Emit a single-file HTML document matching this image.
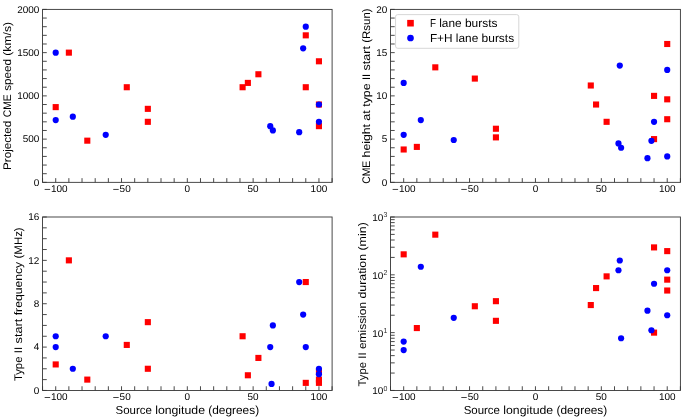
<!DOCTYPE html>
<html><head><meta charset="utf-8"><title>Type II burst properties vs source longitude</title>
<style>
html,body{margin:0;padding:0;background:#ffffff;}
body{width:685px;height:417px;overflow:hidden;}
svg{display:block;will-change:transform;}
svg text{text-rendering:geometricPrecision;font-family:"Liberation Sans",sans-serif;fill:#000000;}
</style></head><body>
<svg width="685" height="417" viewBox="0 0 685 417">
<rect x="0" y="0" width="685" height="417" fill="#ffffff"/>
<rect x="52.66" y="104.07" width="6.1" height="6.1" fill="#ff0000"/>
<rect x="65.82" y="49.59" width="6.1" height="6.1" fill="#ff0000"/>
<rect x="84.25" y="137.62" width="6.1" height="6.1" fill="#ff0000"/>
<rect x="123.73" y="84.18" width="6.1" height="6.1" fill="#ff0000"/>
<rect x="144.79" y="105.80" width="6.1" height="6.1" fill="#ff0000"/>
<rect x="144.79" y="118.77" width="6.1" height="6.1" fill="#ff0000"/>
<rect x="239.55" y="84.18" width="6.1" height="6.1" fill="#ff0000"/>
<rect x="244.82" y="79.85" width="6.1" height="6.1" fill="#ff0000"/>
<rect x="255.35" y="71.21" width="6.1" height="6.1" fill="#ff0000"/>
<rect x="302.73" y="32.29" width="6.1" height="6.1" fill="#ff0000"/>
<rect x="302.73" y="84.18" width="6.1" height="6.1" fill="#ff0000"/>
<rect x="315.89" y="58.24" width="6.1" height="6.1" fill="#ff0000"/>
<rect x="315.89" y="101.47" width="6.1" height="6.1" fill="#ff0000"/>
<rect x="315.89" y="123.09" width="6.1" height="6.1" fill="#ff0000"/>
<circle cx="55.71" cy="52.64" r="3.1" fill="#0000ff"/>
<circle cx="55.71" cy="120.09" r="3.1" fill="#0000ff"/>
<circle cx="72.82" cy="116.63" r="3.1" fill="#0000ff"/>
<circle cx="105.72" cy="134.79" r="3.1" fill="#0000ff"/>
<circle cx="270.24" cy="126.14" r="3.1" fill="#0000ff"/>
<circle cx="272.87" cy="130.47" r="3.1" fill="#0000ff"/>
<circle cx="299.20" cy="132.19" r="3.1" fill="#0000ff"/>
<circle cx="303.15" cy="48.31" r="3.1" fill="#0000ff"/>
<circle cx="305.78" cy="26.69" r="3.1" fill="#0000ff"/>
<circle cx="318.94" cy="104.52" r="3.1" fill="#0000ff"/>
<circle cx="318.94" cy="121.82" r="3.1" fill="#0000ff"/>
<path d="M42.55 182.35V178.15M55.71 182.35V178.15M68.87 182.35V178.15M82.03 182.35V178.15M95.20 182.35V178.15M108.36 182.35V178.15M121.52 182.35V178.15M134.68 182.35V178.15M147.84 182.35V178.15M161.00 182.35V178.15M174.16 182.35V178.15M187.32 182.35V178.15M200.49 182.35V178.15M213.65 182.35V178.15M226.81 182.35V178.15M239.97 182.35V178.15M253.13 182.35V178.15M266.29 182.35V178.15M279.45 182.35V178.15M292.62 182.35V178.15M305.78 182.35V178.15M318.94 182.35V178.15M332.10 182.35V178.15M42.55 182.35H46.75M42.55 173.70H46.75M42.55 165.06H46.75M42.55 156.41H46.75M42.55 147.76H46.75M42.55 139.11H46.75M42.55 130.47H46.75M42.55 121.82H46.75M42.55 113.17H46.75M42.55 104.52H46.75M42.55 95.88H46.75M42.55 87.23H46.75M42.55 78.58H46.75M42.55 69.93H46.75M42.55 61.29H46.75M42.55 52.64H46.75M42.55 43.99H46.75M42.55 35.34H46.75M42.55 26.69H46.75M42.55 18.05H46.75M42.55 9.40H46.75" stroke="#363636" stroke-width="0.9" fill="none"/>
<rect x="42.55" y="9.40" width="289.55" height="172.95" fill="none" stroke="#363636" stroke-width="0.9"/>
<rect x="44.66" y="188.95" width="5.46" height="0.74" fill="#000"/>
<text x="51.04" y="192.05" font-size="9.8" textLength="16.64" lengthAdjust="spacingAndGlyphs">100</text>
<rect x="113.24" y="188.95" width="5.46" height="0.74" fill="#000"/>
<text x="119.62" y="192.05" font-size="9.8" textLength="11.10" lengthAdjust="spacingAndGlyphs">50</text>
<text x="184.55" y="192.05" font-size="9.8" textLength="5.55" lengthAdjust="spacingAndGlyphs">0</text>
<text x="247.58" y="192.05" font-size="9.8" textLength="11.10" lengthAdjust="spacingAndGlyphs">50</text>
<text x="310.62" y="192.05" font-size="9.8" textLength="16.64" lengthAdjust="spacingAndGlyphs">100</text>
<text x="33.80" y="185.65" font-size="9.8" textLength="5.55" lengthAdjust="spacingAndGlyphs">0</text>
<text x="22.71" y="142.41" font-size="9.8" textLength="16.64" lengthAdjust="spacingAndGlyphs">500</text>
<text x="17.16" y="99.17" font-size="9.8" textLength="22.19" lengthAdjust="spacingAndGlyphs">1000</text>
<text x="17.16" y="55.94" font-size="9.8" textLength="22.19" lengthAdjust="spacingAndGlyphs">1500</text>
<text x="17.16" y="12.70" font-size="9.8" textLength="22.19" lengthAdjust="spacingAndGlyphs">2000</text>
<g transform="rotate(-90 11.10 95.97)"><text x="-62.87" y="95.97" font-size="11.0" textLength="49.25" lengthAdjust="spacingAndGlyphs">Projected</text><text x="-10.26" y="95.97" font-size="11.0" textLength="23.12" lengthAdjust="spacingAndGlyphs">CME</text><text x="16.21" y="95.97" font-size="11.0" textLength="31.85" lengthAdjust="spacingAndGlyphs">speed</text><text x="51.42" y="95.97" font-size="11.0" textLength="33.65" lengthAdjust="spacingAndGlyphs">(km/s)</text></g>
<rect x="400.63" y="146.44" width="6.1" height="6.1" fill="#ff0000"/>
<rect x="413.80" y="143.85" width="6.1" height="6.1" fill="#ff0000"/>
<rect x="432.25" y="64.29" width="6.1" height="6.1" fill="#ff0000"/>
<rect x="471.78" y="75.53" width="6.1" height="6.1" fill="#ff0000"/>
<rect x="492.87" y="125.69" width="6.1" height="6.1" fill="#ff0000"/>
<rect x="492.87" y="134.33" width="6.1" height="6.1" fill="#ff0000"/>
<rect x="587.74" y="82.45" width="6.1" height="6.1" fill="#ff0000"/>
<rect x="593.02" y="101.47" width="6.1" height="6.1" fill="#ff0000"/>
<rect x="603.56" y="118.77" width="6.1" height="6.1" fill="#ff0000"/>
<rect x="651.00" y="92.83" width="6.1" height="6.1" fill="#ff0000"/>
<rect x="651.00" y="136.06" width="6.1" height="6.1" fill="#ff0000"/>
<rect x="664.17" y="40.94" width="6.1" height="6.1" fill="#ff0000"/>
<rect x="664.17" y="96.28" width="6.1" height="6.1" fill="#ff0000"/>
<rect x="664.17" y="116.17" width="6.1" height="6.1" fill="#ff0000"/>
<circle cx="403.68" cy="82.90" r="3.1" fill="#0000ff"/>
<circle cx="403.68" cy="134.79" r="3.1" fill="#0000ff"/>
<circle cx="420.81" cy="120.09" r="3.1" fill="#0000ff"/>
<circle cx="453.75" cy="139.98" r="3.1" fill="#0000ff"/>
<circle cx="618.47" cy="143.44" r="3.1" fill="#0000ff"/>
<circle cx="619.78" cy="65.61" r="3.1" fill="#0000ff"/>
<circle cx="621.10" cy="147.76" r="3.1" fill="#0000ff"/>
<circle cx="647.46" cy="158.14" r="3.1" fill="#0000ff"/>
<circle cx="651.41" cy="140.84" r="3.1" fill="#0000ff"/>
<circle cx="654.05" cy="121.82" r="3.1" fill="#0000ff"/>
<circle cx="667.22" cy="69.93" r="3.1" fill="#0000ff"/>
<circle cx="667.22" cy="156.41" r="3.1" fill="#0000ff"/>
<path d="M390.50 182.35V178.15M403.68 182.35V178.15M416.85 182.35V178.15M430.03 182.35V178.15M443.21 182.35V178.15M456.39 182.35V178.15M469.56 182.35V178.15M482.74 182.35V178.15M495.92 182.35V178.15M509.10 182.35V178.15M522.27 182.35V178.15M535.45 182.35V178.15M548.63 182.35V178.15M561.80 182.35V178.15M574.98 182.35V178.15M588.16 182.35V178.15M601.34 182.35V178.15M614.51 182.35V178.15M627.69 182.35V178.15M640.87 182.35V178.15M654.05 182.35V178.15M667.22 182.35V178.15M680.40 182.35V178.15M390.50 182.35H394.70M390.50 173.70H394.70M390.50 165.06H394.70M390.50 156.41H394.70M390.50 147.76H394.70M390.50 139.11H394.70M390.50 130.47H394.70M390.50 121.82H394.70M390.50 113.17H394.70M390.50 104.52H394.70M390.50 95.88H394.70M390.50 87.23H394.70M390.50 78.58H394.70M390.50 69.93H394.70M390.50 61.29H394.70M390.50 52.64H394.70M390.50 43.99H394.70M390.50 35.34H394.70M390.50 26.69H394.70M390.50 18.05H394.70M390.50 9.40H394.70" stroke="#363636" stroke-width="0.9" fill="none"/>
<rect x="390.50" y="9.40" width="289.90" height="172.95" fill="none" stroke="#363636" stroke-width="0.9"/>
<rect x="392.63" y="188.95" width="5.46" height="0.74" fill="#000"/>
<text x="399.01" y="192.05" font-size="9.8" textLength="16.64" lengthAdjust="spacingAndGlyphs">100</text>
<rect x="461.29" y="188.95" width="5.46" height="0.74" fill="#000"/>
<text x="467.67" y="192.05" font-size="9.8" textLength="11.10" lengthAdjust="spacingAndGlyphs">50</text>
<text x="532.68" y="192.05" font-size="9.8" textLength="5.55" lengthAdjust="spacingAndGlyphs">0</text>
<text x="595.79" y="192.05" font-size="9.8" textLength="11.10" lengthAdjust="spacingAndGlyphs">50</text>
<text x="658.90" y="192.05" font-size="9.8" textLength="16.64" lengthAdjust="spacingAndGlyphs">100</text>
<text x="381.75" y="185.65" font-size="9.8" textLength="5.55" lengthAdjust="spacingAndGlyphs">0</text>
<text x="381.75" y="142.41" font-size="9.8" textLength="5.55" lengthAdjust="spacingAndGlyphs">5</text>
<text x="376.20" y="99.17" font-size="9.8" textLength="11.10" lengthAdjust="spacingAndGlyphs">10</text>
<text x="376.20" y="55.94" font-size="9.8" textLength="11.10" lengthAdjust="spacingAndGlyphs">15</text>
<text x="376.20" y="12.70" font-size="9.8" textLength="11.10" lengthAdjust="spacingAndGlyphs">20</text>
<g transform="rotate(-90 369.95 96.12)"><text x="282.30" y="96.12" font-size="11.0" textLength="23.01" lengthAdjust="spacingAndGlyphs">CME</text><text x="308.64" y="96.12" font-size="11.0" textLength="33.44" lengthAdjust="spacingAndGlyphs">height</text><text x="345.42" y="96.12" font-size="11.0" textLength="10.54" lengthAdjust="spacingAndGlyphs">at</text><text x="359.29" y="96.12" font-size="11.0" textLength="23.44" lengthAdjust="spacingAndGlyphs">type</text><text x="386.07" y="96.12" font-size="11.0" textLength="6.19" lengthAdjust="spacingAndGlyphs">II</text><text x="395.59" y="96.12" font-size="11.0" textLength="24.44" lengthAdjust="spacingAndGlyphs">start</text><text x="423.36" y="96.12" font-size="11.0" textLength="34.24" lengthAdjust="spacingAndGlyphs">(Rsun)</text></g>
<rect x="395.55" y="14.6" width="123.25" height="33.7" rx="2.2" ry="2.2" fill="#ffffff" fill-opacity="0.8" stroke="#d2d2d2" stroke-width="0.9"/>
<rect x="407.20" y="19.90" width="6.6" height="6.6" fill="#ff0000"/>
<circle cx="410.5" cy="38.0" r="3.35" fill="#0000ff"/>
<text x="429.90" y="26.80" font-size="11.6" textLength="6.02" lengthAdjust="spacingAndGlyphs">F</text><text x="439.24" y="26.80" font-size="11.6" textLength="22.38" lengthAdjust="spacingAndGlyphs">lane</text><text x="464.95" y="26.80" font-size="11.6" textLength="32.57" lengthAdjust="spacingAndGlyphs">bursts</text>
<text x="429.90" y="41.90" font-size="11.6" textLength="22.65" lengthAdjust="spacingAndGlyphs">F+H</text><text x="455.87" y="41.90" font-size="11.6" textLength="22.38" lengthAdjust="spacingAndGlyphs">lane</text><text x="481.58" y="41.90" font-size="11.6" textLength="32.57" lengthAdjust="spacingAndGlyphs">bursts</text>
<rect x="52.66" y="361.38" width="6.1" height="6.1" fill="#ff0000"/>
<rect x="65.82" y="257.31" width="6.1" height="6.1" fill="#ff0000"/>
<rect x="84.25" y="376.56" width="6.1" height="6.1" fill="#ff0000"/>
<rect x="123.73" y="341.87" width="6.1" height="6.1" fill="#ff0000"/>
<rect x="144.79" y="319.10" width="6.1" height="6.1" fill="#ff0000"/>
<rect x="144.79" y="365.72" width="6.1" height="6.1" fill="#ff0000"/>
<rect x="239.55" y="333.20" width="6.1" height="6.1" fill="#ff0000"/>
<rect x="244.82" y="372.22" width="6.1" height="6.1" fill="#ff0000"/>
<rect x="255.35" y="354.88" width="6.1" height="6.1" fill="#ff0000"/>
<rect x="302.73" y="278.99" width="6.1" height="6.1" fill="#ff0000"/>
<rect x="302.73" y="379.81" width="6.1" height="6.1" fill="#ff0000"/>
<rect x="315.89" y="368.75" width="6.1" height="6.1" fill="#ff0000"/>
<rect x="315.89" y="376.56" width="6.1" height="6.1" fill="#ff0000"/>
<rect x="315.89" y="379.81" width="6.1" height="6.1" fill="#ff0000"/>
<circle cx="55.71" cy="336.25" r="3.1" fill="#0000ff"/>
<circle cx="55.71" cy="347.09" r="3.1" fill="#0000ff"/>
<circle cx="72.82" cy="368.77" r="3.1" fill="#0000ff"/>
<circle cx="105.72" cy="336.25" r="3.1" fill="#0000ff"/>
<circle cx="270.24" cy="347.09" r="3.1" fill="#0000ff"/>
<circle cx="271.56" cy="383.95" r="3.1" fill="#0000ff"/>
<circle cx="272.87" cy="325.41" r="3.1" fill="#0000ff"/>
<circle cx="299.20" cy="282.04" r="3.1" fill="#0000ff"/>
<circle cx="303.15" cy="314.57" r="3.1" fill="#0000ff"/>
<circle cx="305.78" cy="347.09" r="3.1" fill="#0000ff"/>
<circle cx="318.94" cy="368.77" r="3.1" fill="#0000ff"/>
<circle cx="318.94" cy="374.19" r="3.1" fill="#0000ff"/>
<path d="M42.55 390.45V386.25M55.71 390.45V386.25M68.87 390.45V386.25M82.03 390.45V386.25M95.20 390.45V386.25M108.36 390.45V386.25M121.52 390.45V386.25M134.68 390.45V386.25M147.84 390.45V386.25M161.00 390.45V386.25M174.16 390.45V386.25M187.32 390.45V386.25M200.49 390.45V386.25M213.65 390.45V386.25M226.81 390.45V386.25M239.97 390.45V386.25M253.13 390.45V386.25M266.29 390.45V386.25M279.45 390.45V386.25M292.62 390.45V386.25M305.78 390.45V386.25M318.94 390.45V386.25M332.10 390.45V386.25M42.55 390.45H46.75M42.55 379.61H46.75M42.55 368.77H46.75M42.55 357.93H46.75M42.55 347.09H46.75M42.55 336.25H46.75M42.55 325.41H46.75M42.55 314.57H46.75M42.55 303.73H46.75M42.55 292.88H46.75M42.55 282.04H46.75M42.55 271.20H46.75M42.55 260.36H46.75M42.55 249.52H46.75M42.55 238.68H46.75M42.55 227.84H46.75M42.55 217.00H46.75" stroke="#363636" stroke-width="0.9" fill="none"/>
<rect x="42.55" y="217.00" width="289.55" height="173.45" fill="none" stroke="#363636" stroke-width="0.9"/>
<rect x="44.66" y="397.05" width="5.46" height="0.74" fill="#000"/>
<text x="51.04" y="400.15" font-size="9.8" textLength="16.64" lengthAdjust="spacingAndGlyphs">100</text>
<rect x="113.24" y="397.05" width="5.46" height="0.74" fill="#000"/>
<text x="119.62" y="400.15" font-size="9.8" textLength="11.10" lengthAdjust="spacingAndGlyphs">50</text>
<text x="184.55" y="400.15" font-size="9.8" textLength="5.55" lengthAdjust="spacingAndGlyphs">0</text>
<text x="247.58" y="400.15" font-size="9.8" textLength="11.10" lengthAdjust="spacingAndGlyphs">50</text>
<text x="310.62" y="400.15" font-size="9.8" textLength="16.64" lengthAdjust="spacingAndGlyphs">100</text>
<text x="33.80" y="393.75" font-size="9.8" textLength="5.55" lengthAdjust="spacingAndGlyphs">0</text>
<text x="33.80" y="350.39" font-size="9.8" textLength="5.55" lengthAdjust="spacingAndGlyphs">4</text>
<text x="33.80" y="307.03" font-size="9.8" textLength="5.55" lengthAdjust="spacingAndGlyphs">8</text>
<text x="28.25" y="263.66" font-size="9.8" textLength="11.10" lengthAdjust="spacingAndGlyphs">12</text>
<text x="28.25" y="220.30" font-size="9.8" textLength="11.10" lengthAdjust="spacingAndGlyphs">16</text>
<g transform="rotate(-90 22.10 304.18)"><text x="-54.77" y="304.18" font-size="11.0" textLength="24.48" lengthAdjust="spacingAndGlyphs">Type</text><text x="-26.90" y="304.18" font-size="11.0" textLength="6.29" lengthAdjust="spacingAndGlyphs">II</text><text x="-17.22" y="304.18" font-size="11.0" textLength="24.83" lengthAdjust="spacingAndGlyphs">start</text><text x="10.99" y="304.18" font-size="11.0" textLength="53.46" lengthAdjust="spacingAndGlyphs">frequency</text><text x="67.84" y="304.18" font-size="11.0" textLength="31.12" lengthAdjust="spacingAndGlyphs">(MHz)</text></g>
<text x="115.55" y="414.00" font-size="11.6" textLength="36.29" lengthAdjust="spacingAndGlyphs">Source</text><text x="155.19" y="414.00" font-size="11.6" textLength="49.78" lengthAdjust="spacingAndGlyphs">longitude</text><text x="208.33" y="414.00" font-size="11.6" textLength="50.77" lengthAdjust="spacingAndGlyphs">(degrees)</text>
<rect x="400.63" y="251.29" width="6.1" height="6.1" fill="#ff0000"/>
<rect x="413.80" y="325.01" width="6.1" height="6.1" fill="#ff0000"/>
<rect x="432.25" y="231.61" width="6.1" height="6.1" fill="#ff0000"/>
<rect x="471.78" y="303.20" width="6.1" height="6.1" fill="#ff0000"/>
<rect x="492.87" y="298.13" width="6.1" height="6.1" fill="#ff0000"/>
<rect x="492.87" y="317.78" width="6.1" height="6.1" fill="#ff0000"/>
<rect x="587.74" y="302.00" width="6.1" height="6.1" fill="#ff0000"/>
<rect x="593.02" y="285.02" width="6.1" height="6.1" fill="#ff0000"/>
<rect x="603.56" y="273.32" width="6.1" height="6.1" fill="#ff0000"/>
<rect x="651.00" y="244.35" width="6.1" height="6.1" fill="#ff0000"/>
<rect x="651.00" y="329.58" width="6.1" height="6.1" fill="#ff0000"/>
<rect x="664.17" y="248.07" width="6.1" height="6.1" fill="#ff0000"/>
<rect x="664.17" y="276.60" width="6.1" height="6.1" fill="#ff0000"/>
<rect x="664.17" y="287.47" width="6.1" height="6.1" fill="#ff0000"/>
<circle cx="403.68" cy="341.59" r="3.1" fill="#0000ff"/>
<circle cx="403.68" cy="350.04" r="3.1" fill="#0000ff"/>
<circle cx="420.81" cy="266.73" r="3.1" fill="#0000ff"/>
<circle cx="453.75" cy="317.87" r="3.1" fill="#0000ff"/>
<circle cx="618.47" cy="270.24" r="3.1" fill="#0000ff"/>
<circle cx="619.78" cy="260.48" r="3.1" fill="#0000ff"/>
<circle cx="621.10" cy="338.24" r="3.1" fill="#0000ff"/>
<circle cx="647.46" cy="310.65" r="3.1" fill="#0000ff"/>
<circle cx="651.41" cy="330.24" r="3.1" fill="#0000ff"/>
<circle cx="654.05" cy="283.77" r="3.1" fill="#0000ff"/>
<circle cx="667.22" cy="270.24" r="3.1" fill="#0000ff"/>
<circle cx="667.22" cy="315.23" r="3.1" fill="#0000ff"/>
<path d="M390.50 390.45V386.25M403.68 390.45V386.25M416.85 390.45V386.25M430.03 390.45V386.25M443.21 390.45V386.25M456.39 390.45V386.25M469.56 390.45V386.25M482.74 390.45V386.25M495.92 390.45V386.25M509.10 390.45V386.25M522.27 390.45V386.25M535.45 390.45V386.25M548.63 390.45V386.25M561.80 390.45V386.25M574.98 390.45V386.25M588.16 390.45V386.25M601.34 390.45V386.25M614.51 390.45V386.25M627.69 390.45V386.25M640.87 390.45V386.25M654.05 390.45V386.25M667.22 390.45V386.25M680.40 390.45V386.25M390.50 390.45H394.70M390.50 373.05H394.70M390.50 362.86H394.70M390.50 355.64H394.70M390.50 350.04H394.70M390.50 345.46H394.70M390.50 341.59H394.70M390.50 338.24H394.70M390.50 335.28H394.70M390.50 332.63H394.70M390.50 315.23H394.70M390.50 305.05H394.70M390.50 297.82H394.70M390.50 292.22H394.70M390.50 287.64H394.70M390.50 283.77H394.70M390.50 280.42H394.70M390.50 277.46H394.70M390.50 274.82H394.70M390.50 257.41H394.70M390.50 247.23H394.70M390.50 240.01H394.70M390.50 234.40H394.70M390.50 229.83H394.70M390.50 225.96H394.70M390.50 222.60H394.70M390.50 219.65H394.70M390.50 217.00H394.70" stroke="#363636" stroke-width="0.9" fill="none"/>
<rect x="390.50" y="217.00" width="289.90" height="173.45" fill="none" stroke="#363636" stroke-width="0.9"/>
<rect x="392.63" y="397.05" width="5.46" height="0.74" fill="#000"/>
<text x="399.01" y="400.15" font-size="9.8" textLength="16.64" lengthAdjust="spacingAndGlyphs">100</text>
<rect x="461.29" y="397.05" width="5.46" height="0.74" fill="#000"/>
<text x="467.67" y="400.15" font-size="9.8" textLength="11.10" lengthAdjust="spacingAndGlyphs">50</text>
<text x="532.68" y="400.15" font-size="9.8" textLength="5.55" lengthAdjust="spacingAndGlyphs">0</text>
<text x="595.79" y="400.15" font-size="9.8" textLength="11.10" lengthAdjust="spacingAndGlyphs">50</text>
<text x="658.90" y="400.15" font-size="9.8" textLength="16.64" lengthAdjust="spacingAndGlyphs">100</text>
<text x="387.40" y="390.75" font-size="7.3" fill="#303030" style="fill:#303030" text-anchor="end" textLength="3.88" lengthAdjust="spacingAndGlyphs">0</text>
<text x="372.22" y="394.35" font-size="9.8" textLength="11.10" lengthAdjust="spacingAndGlyphs">10</text>
<text x="387.40" y="332.93" font-size="7.3" fill="#303030" style="fill:#303030" text-anchor="end" textLength="3.88" lengthAdjust="spacingAndGlyphs">1</text>
<text x="372.22" y="336.53" font-size="9.8" textLength="11.10" lengthAdjust="spacingAndGlyphs">10</text>
<text x="387.40" y="275.12" font-size="7.3" fill="#303030" style="fill:#303030" text-anchor="end" textLength="3.88" lengthAdjust="spacingAndGlyphs">2</text>
<text x="372.22" y="278.72" font-size="9.8" textLength="11.10" lengthAdjust="spacingAndGlyphs">10</text>
<text x="387.40" y="217.30" font-size="7.3" fill="#303030" style="fill:#303030" text-anchor="end" textLength="3.88" lengthAdjust="spacingAndGlyphs">3</text>
<text x="372.22" y="220.90" font-size="9.8" textLength="11.10" lengthAdjust="spacingAndGlyphs">10</text>
<g transform="rotate(-90 366.10 304.33)"><text x="283.96" y="304.33" font-size="11.0" textLength="24.40" lengthAdjust="spacingAndGlyphs">Type</text><text x="311.74" y="304.33" font-size="11.0" textLength="6.27" lengthAdjust="spacingAndGlyphs">II</text><text x="321.38" y="304.33" font-size="11.0" textLength="47.08" lengthAdjust="spacingAndGlyphs">emission</text><text x="371.84" y="304.33" font-size="11.0" textLength="44.70" lengthAdjust="spacingAndGlyphs">duration</text><text x="419.92" y="304.33" font-size="11.0" textLength="28.32" lengthAdjust="spacingAndGlyphs">(min)</text></g>
<text x="463.67" y="414.00" font-size="11.6" textLength="36.29" lengthAdjust="spacingAndGlyphs">Source</text><text x="503.32" y="414.00" font-size="11.6" textLength="49.78" lengthAdjust="spacingAndGlyphs">longitude</text><text x="556.46" y="414.00" font-size="11.6" textLength="50.77" lengthAdjust="spacingAndGlyphs">(degrees)</text>
</svg>
</body></html>
